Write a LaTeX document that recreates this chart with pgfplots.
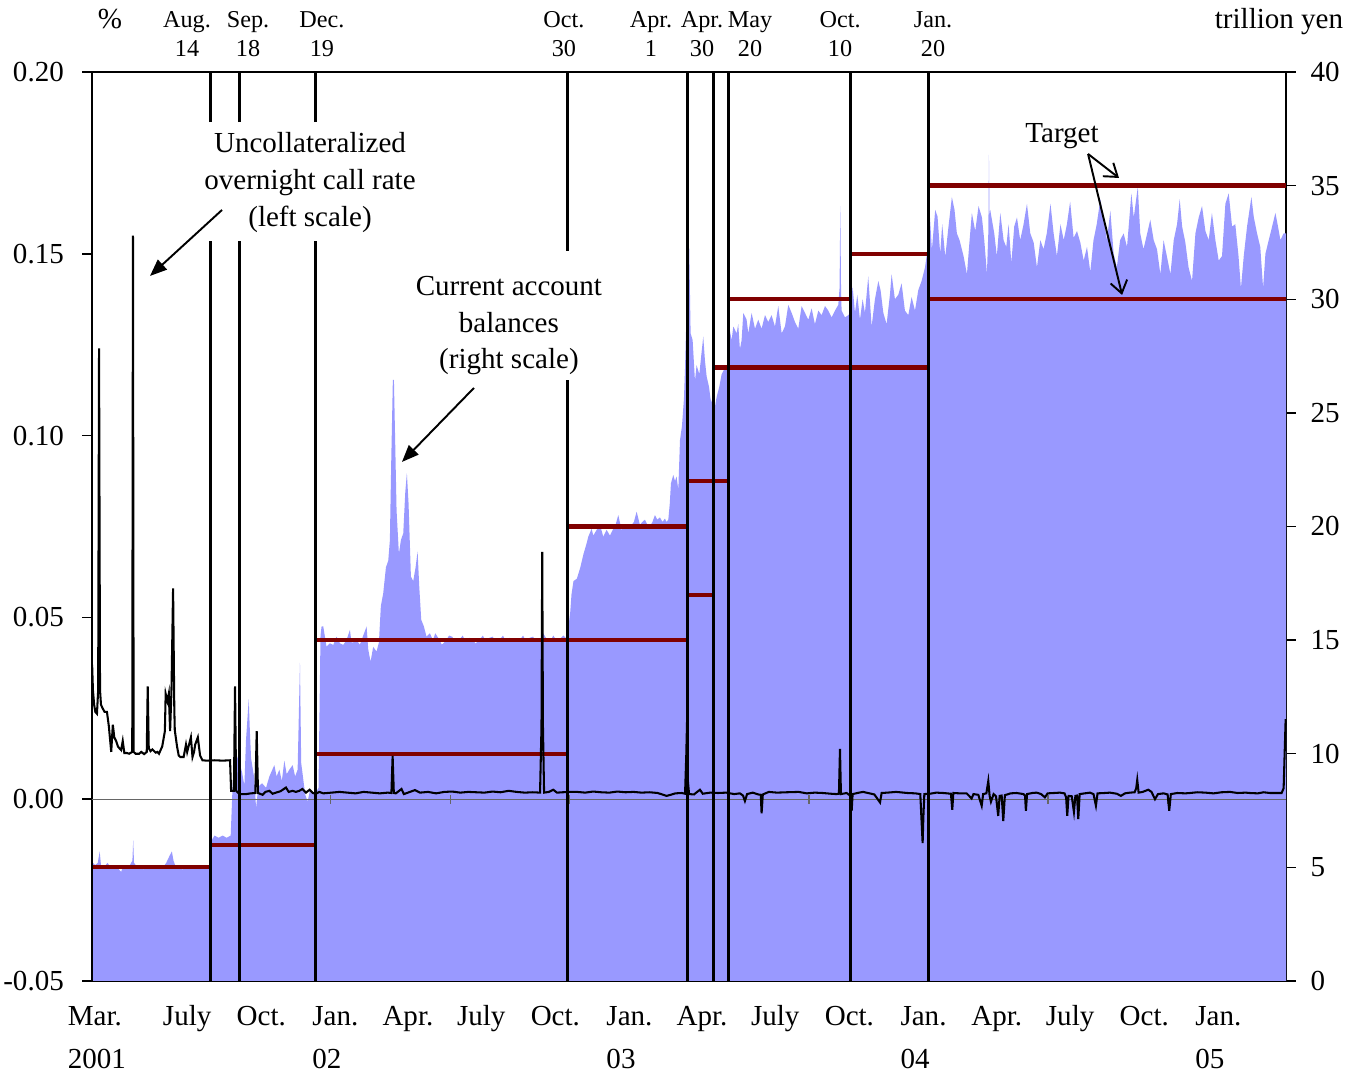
\documentclass[border=0pt]{standalone}
\usepackage{fontspec}
\setmainfont{Liberation Serif}
\usepackage{pgfplots}
\pgfplotsset{compat=1.18}
\usetikzlibrary{arrows.meta}
\definecolor{cab}{RGB}{153,153,255}
\definecolor{tgt}{RGB}{128,0,0}
\begin{document}
\begin{tikzpicture}[font=\fontsize{12}{14.4}\selectfont]
\pgfplotsset{
  common/.style={
    scale only axis, width=493.4pt, height=375.6pt,
    xmin=17.8, xmax=1500,
    axis line style={line width=0.9pt, black},
    tick align=outside, major tick length=4.1pt,
    tick style={line width=0.6pt, black},
    clip=false,
    tick label style={font=\fontsize{12}{14.4}\selectfont},
  },
  evt/.style={black, line width=1.25pt},
  tl/.style={tgt, line width=1.75pt},
}
% ---------------- right scale: current account balances and targets
\begin{axis}[common, ymin=0, ymax=40,
  axis y line*=right, axis x line*=bottom,
  ytick={0,5,...,40},
  yticklabels={0,5,10,15,20,25,30,35,40},
  yticklabel style={xshift=2.5pt},
  xtick={24,136,228,320,410,501,593,685,775,866,958,1050,1141,1232,1324,1416},
  xticklabels={{\strut Mar.\\2001},{\strut July},{\strut Oct.},{\strut Jan.\\02},{\strut Apr.},{\strut July},{\strut Oct.},{\strut Jan.\\03},{\strut Apr.},{\strut July},{\strut Oct.},{\strut Jan.\\04},{\strut Apr.},{\strut July},{\strut Oct.},{\strut Jan.\\05}},
  xtick style={draw=none},
  xticklabel style={align=left, font=\fontsize{12}{17.6}\selectfont, yshift=1.5pt},
]
\addplot[fill=cab, draw=none] coordinates {
(18,5.5)(19,5.2)(22,5.1)(25,5.2)(27.4,5.7)(29,5.1)(33,5.0)(37,5.2)(41,5.0)(45,5.1)(49,5.0)(54,4.8)(57,5.1)(61,5.0)(65,5.1)(68,5.3)(69,6.2)(70,5.2)(74,5.0)(78,5.1)(82,4.9)(86,5.1)(90,5.0)(94,5.1)(98,5.0)(102,5.1)(106,5.0)(110,5.2)(114,5.5)(117,5.7)(119,5.3)(122,5.0)(126,5.1)(130,4.9)(134,5.0)(138,5.1)(142,5.0)(146,5.1)(150,5.0)(154,5.1)(158,5.0)(162,5.1)(165,5.0)
(166.5,6.2)(170,6.4)(175,6.3)(180,6.4)(185,6.3)(190,6.4)(192.5,8.7)(194.5,9.5)(196.7,10.0)(200.8,9.6)(204,9.2)(207,8.6)(209,10.6)(212.4,12.4)(213.8,11.0)(215.3,9.8)(219.4,8.9)(221.5,7.6)(223.5,8.3)(225.6,8.6)(229,8.7)(233.9,8.5)(238,9.0)(244.2,9.5)(247,9.0)(250.4,9.3)(253.5,8.8)(256.6,9.7)(259.5,9.1)(262.8,9.3)(266.9,9.5)(270,9.0)(273.1,9.3)(276,14.0)(277.5,9.6)(279.3,9.1)(282.5,8.2)(285.5,7.9)(288.5,8.4)(291.7,8.3)(295.8,8.3)(299,8.5)
(301.5,15.2)(302.8,15.6)(304.9,15.6)(309,14.71)(313.1,14.86)(317.3,14.79)(321.4,15.15)(325.6,14.86)(329.7,14.79)(333.8,15.0)(338,15.45)(340,14.9)(342.1,14.9)(346.2,15.0)(350.4,14.8)(354.5,15.2)(358.7,15.6)(360.7,14.6)(363.6,14.05)(366.9,14.7)(371.1,14.5)(374,14.9)(376.4,16.5)(379.3,17.05)(382.7,18.2)(385.6,18.5)(387.6,19.4)(389.3,22.9)(391.3,26.45)(392.6,26.45)(394.2,23.7)(395.9,20.7)(398.8,18.8)(401.3,19.4)(404.2,19.7)(406.7,21.5)(408.7,22.35)(410.8,21.0)(413.7,17.8)(416.6,17.6)(419.5,18.2)(422,18.9)(424,17.4)(426.5,15.9)(429.8,15.6)(433.1,15.15)(437.3,15.3)(441,15.0)(444,15.3)(448.4,15.05)(452,14.8)(456.8,14.95)(461,15.2)(465,15.15)(469,14.9)(473.5,15.0)(478,15.2)(481.8,14.9)(486,15.1)(490,15.05)(494,14.85)(498.6,15.0)(503,15.2)(507,14.9)(511,15.1)(515.3,15.15)(519,14.9)(523.6,15.0)(528,15.2)(532,14.9)(536,15.1)(540.3,15.05)(544,14.9)(548.7,15.0)(553,15.2)(557,14.9)(561,15.1)(565.4,15.15)(569,14.9)(573.8,15.0)(578,15.3)(582,15.05)(586,14.9)(590.5,15.2)(594,15.0)(598.8,15.05)(603,15.2)(607.2,15.05)
(609,15.5)(611.4,16.2)(613,17.0)(615.5,17.6)(619.7,17.7)(624,18.2)(628,18.8)(629.7,19.0)(631.8,19.26)(633.9,19.55)(638,19.9)(640.1,19.6)(644.2,19.85)(648.4,20.07)(652.5,19.55)(656.6,19.85)(660.8,19.6)(664.9,19.9)(668,20.1)(671.1,20.5)(675.2,19.85)(678,20.0)(681.5,20.07)(684.5,19.9)(687.7,20.07)(690.5,20.2)(693.9,20.65)(698,20.07)(701,20.2)(704.2,20.3)(707,20.1)(710.4,20.0)(713.5,20.2)(716.6,20.5)(719.5,20.3)(722.8,20.4)(726,20.2)(729,20.35)(731,20.2)(733.2,20.3)(735,21.0)(736.5,21.9)(739.4,22.27)(741.5,22.0)(743.5,22.2)(745.6,21.6)(747.7,23.8)(750.1,24.4)(752.6,25.6)(754,27.0)(755.1,28.5)(756.5,30.0)
(758,32.4)(759.2,32.2)(760.9,28.5)(763.4,28.2)(766.3,26.4)(768.3,27.1)(771.7,26.7)(774.6,27.7)(776.6,28.35)(778.7,27.3)(780.8,26.6)(783.7,26.15)(785.7,25.6)(788.2,25.4)(790.3,25.1)(793.2,25.7)(796.5,26.15)(799.4,26.7)(802.3,26.9)(805.6,26.9)(807.6,27.5)(809.7,28.6)(811.8,28.2)(813.9,28.8)(818,28.5)(820,28.9)(822.1,27.8)(824.2,28.2)(826.3,29.4)(830.4,29.1)(832.5,28.5)(836.6,29.4)(840.8,28.7)(844.9,29.1)(849,28.7)(853.2,29.3)(857.3,29.0)(861.4,29.3)(865.6,28.8)(869.7,29.7)(873.9,28.5)(878,28.8)(882.1,29.75)(886.3,29.4)(890.4,29.0)(894.5,28.7)(898.7,29.7)(902.8,29.4)(907,29.1)(911.1,29.6)(915.2,28.9)(919.4,29.5)(923.5,29.3)(927.7,29.7)(931.8,29.5)(935.9,29.2)(940.1,29.5)(944.2,29.75)(945.8,30.5)(946.7,34.1)(947.6,30.5)(948.3,29.5)(952.5,29.2)(956.6,29.3)(959.1,29.4)(962,30.55)(964.9,29.4)(967.8,30.2)(971.1,29.1)(974.4,30.0)(977.3,29.4)(981.4,31.0)(985.6,28.8)(989.7,30.0)(993.9,30.8)(996.7,30.4)(1000.1,29.4)(1004.2,28.9)(1008.3,30.2)(1010.4,31.1)(1014.5,30.0)(1018.7,30.2)(1022.8,30.7)(1026.9,29.5)(1031.1,29.3)(1035.2,30.1)(1039.4,29.5)(1043.5,30.4)(1047.6,30.8)(1051.8,31.4)(1055.1,32.2)
(1056.5,32.8)(1058,33.6)(1060.4,32.17)(1064.5,33.93)(1067.4,33.64)(1070.7,32.0)(1073.2,33.3)(1077,31.87)(1081,33.2)(1085.2,34.5)(1088.5,33.93)(1091.4,32.9)(1094.7,32.6)(1099.7,31.9)(1103.9,31.1)(1107.2,32.6)(1110,33.8)(1114.2,33.0)(1118.3,34.1)(1122.5,33.6)(1125.4,32.6)(1128.7,31.13)(1130.5,33.0)(1131.2,36.35)(1132,33.5)(1132.8,33.93)(1137.8,32.9)(1141,31.9)(1145.3,33.8)(1149.4,32.6)(1152.7,32.3)(1155.6,33.3)(1159,31.6)(1162.6,33.2)(1166,33.6)(1170,32.6)(1174.2,33.3)(1178.4,34.2)(1182.5,32.9)(1186.7,32.5)(1190.8,31.4)(1195,32.6)(1199,32.2)(1203,32.9)(1207.6,34.2)(1211.5,32.9)(1215.6,31.9)(1220,33.3)(1224,32.6)(1228,33.3)(1232,34.3)(1236.3,32.7)(1240.5,33.0)(1244.6,32.5)(1248.8,31.7)(1252.9,32.3)(1257,31.2)(1261,32.6)(1265,33.3)(1269.5,34.4)(1273.6,33.5)(1277.7,32.6)(1281.9,33.9)(1286,32.0)(1290,31.4)(1294,32.6)(1298.4,32.9)(1302.6,32.3)(1308,34.66)(1311,33.6)(1316,34.95)(1319,32.9)(1323,32.2)(1327,32.8)(1331.5,33.5)(1335.7,32.6)(1339.8,32.2)(1344,31.1)(1348,32.6)(1352,31.9)(1356.5,31.1)(1360.6,32.6)(1364.7,33.3)(1368,34.4)(1371,33.2)(1375,32.5)(1379,31.4)(1383.3,30.8)(1387.5,32.9)(1391.6,33.6)(1395.7,34.1)(1399.9,33.0)(1404,32.6)(1408,33.8)(1412.3,32.6)(1416.4,31.7)(1420.5,31.9)(1424.7,34.2)(1428.8,34.66)(1433,33.2)(1437,33.3)(1441,31.9)(1444,30.48)(1447.5,31.9)(1451.6,33.2)(1457,34.5)(1460,33.6)(1464,32.9)(1468,32.3)(1471.5,30.5)(1474.4,32.0)(1478.5,32.6)(1482.7,33.2)(1486.8,33.8)(1490,33.2)(1493,32.6)(1497,32.9)(1500,32.9)
} \closedcycle;
% targets
\addplot[tl] coordinates {(17.8,5)(165.5,5)};
\addplot[tl] coordinates {(165.5,6)(295.8,6)};
\addplot[tl] coordinates {(295.8,10)(607.7,10)};
\addplot[tl] coordinates {(295.8,15)(757.2,15)};
\addplot[tl] coordinates {(607.7,20)(757.2,20)};
\addplot[tl] coordinates {(757.2,17)(789,17)};
\addplot[tl] coordinates {(757.2,22)(809,22)};
\addplot[tl] coordinates {(789,27)(1055.9,27)};
\addplot[tl] coordinates {(807.6,30)(959.1,30)};
\addplot[tl] coordinates {(959.1,32)(1055.9,32)};
\addplot[tl] coordinates {(1055.9,30)(1500,30)};
\addplot[tl] coordinates {(1055.9,35)(1500,35)};
\end{axis}
% ---------------- left scale: call rate
\begin{axis}[common, ymin=-0.05, ymax=0.2,
  axis y line*=left, axis x line*=top, xtick=\empty,
  ytick={-0.05,0,0.05,0.1,0.15,0.2},
  yticklabels={-0.05,0.00,0.05,0.10,0.15,0.20},
  yticklabel style={xshift=-4pt},
]
\addplot[black!60, line width=0.45pt] coordinates {(17.8,0)(1500,0)};
\addplot[black!60, line width=0.45pt, unbounded coords=jump] coordinates {
(314.4,-0.0012)(314.4,0.0012)(314.4,nan)(462.8,-0.0012)(462.8,0.0012)(462.8,nan)(611.1,-0.0012)(611.1,0.0012)(611.1,nan)(907.8,-0.0012)(907.8,0.0012)(907.8,nan)(1204.5,-0.0012)(1204.5,0.0012)(1204.5,nan)(1352.8,-0.0012)(1352.8,0.0012)};
% event lines
\addplot[evt] coordinates {(165.5,-0.05)(165.5,0.1535)};
\addplot[evt] coordinates {(165.5,0.1862)(165.5,0.2)};
\addplot[evt] coordinates {(201.5,-0.05)(201.5,0.1535)};
\addplot[evt] coordinates {(201.5,0.1862)(201.5,0.2)};
\addplot[evt] coordinates {(295.8,-0.05)(295.8,0.1535)};
\addplot[evt] coordinates {(295.8,0.1862)(295.8,0.2)};
\addplot[evt] coordinates {(607.7,-0.05)(607.7,0.1153)};
\addplot[evt] coordinates {(607.7,0.1508)(607.7,0.2)};
\addplot[evt] coordinates {(757.2,-0.05)(757.2,0.2)};
\addplot[evt] coordinates {(789,-0.05)(789,0.2)};
\addplot[evt] coordinates {(807.6,-0.05)(807.6,0.2)};
\addplot[evt] coordinates {(959.1,-0.05)(959.1,0.2)};
\addplot[evt] coordinates {(1055.9,-0.05)(1055.9,0.2)};
% call rate
\addplot[black, line width=0.85pt] coordinates {
(18,0.037)(19,0.030)(20.5,0.026)(22,0.024)(24,0.0235)(25.5,0.030)(26.6,0.124)(27.8,0.030)(29,0.026)(31,0.025)(33.5,0.024)(36.4,0.024)(38.8,0.020)(41.7,0.013)(43.7,0.0205)(45.5,0.017)(47.8,0.016)(50,0.0145)(51.9,0.014)(54,0.0135)(56,0.016)(58,0.0127)(61,0.0127)(64,0.0125)(67.8,0.013)(68.7,0.155)(69.5,0.013)(72,0.0125)(76.4,0.0125)(79,0.013)(82.6,0.0124)(85.8,0.013)(87,0.031)(88.3,0.014)(90.5,0.0132)(92.8,0.0137)(96.9,0.0128)(99,0.013)(101,0.0125)(103,0.0135)(105,0.0145)(108.3,0.0187)(109.3,0.029)(111.5,0.027)(113.2,0.029)(114.8,0.0187)(116.5,0.030)(118.5,0.058)(120,0.025)(120.6,0.019)(123.4,0.0145)(125.5,0.012)(127.5,0.0116)(131.6,0.0116)(134.5,0.015)(136,0.013)(137.7,0.0145)(140.6,0.017)(142.6,0.0116)(144.5,0.013)(145.9,0.015)(149.2,0.017)(152,0.012)(154.9,0.0107)(160,0.0106)(170,0.0107)(180,0.0106)(189.2,0.0107)(190.5,0.0023)(194,0.0023)(195.4,0.031)(196.8,0.0023)(200.8,0.0014)(209,0.0014)(215,0.0016)(220.6,0.0017)(222.3,0.0187)(223.9,0.0017)(229.7,0.0012)(233,0.0020)(238,0.0023)(242,0.0015)(246.2,0.0018)(252,0.0022)(258.6,0.0032)(262,0.0020)(266.9,0.0023)(271,0.0020)(275.2,0.0023)(279,0.0028)(283.4,0.0018)(288,0.0026)(292,0.0017)(295.8,0.0015)(300,0.0020)(305,0.0016)(315,0.0018)(325,0.0020)(335,0.0018)(345,0.0016)(355,0.0020)(365,0.0018)(375,0.0016)(385,0.0018)(389.5,0.0017)(391,0.0119)(392.5,0.0017)(395,0.0016)(402,0.0028)(405,0.0014)(410,0.0018)(418.7,0.0025)(425,0.0018)(435,0.0020)(445,0.0016)(455,0.0020)(465,0.0021)(475,0.0018)(485,0.0020)(495,0.0019)(505,0.0018)(515,0.0021)(525,0.0019)(535,0.0023)(545,0.0020)(555,0.0018)(565,0.0019)(574,0.0018)(575.8,0.0200)(576.7,0.068)(577.6,0.0200)(579,0.0018)(585,0.0020)(590.4,0.0026)(595,0.0018)(602,0.0019)(611,0.0020)(620,0.0020)(630,0.0018)(640,0.0021)(650,0.0019)(660,0.0018)(670,0.0021)(680,0.0019)(690,0.0020)(700,0.0018)(710,0.0019)(720,0.0017)(727,0.0012)(731,0.0009)(736,0.0012)(742,0.0016)(750,0.0017)(754,0.0015)(755.5,0.0120)(756.5,0.0217)(757.5,0.0050)(759,0.0014)(765,0.0013)(772.5,0.0026)(776,0.0015)(785,0.0018)(795,0.0017)(805,0.0018)(815,0.0014)(822,0.0016)(826,0.0010)(828.3,-0.0005)(831,0.0014)(838,0.0018)(845,0.0013)(848,0.0012)(849,-0.0039)(850.5,0.0013)(858,0.0020)(868,0.0018)(880,0.0019)(895,0.0020)(905,0.0016)(915,0.0018)(925,0.0017)(935,0.0015)(942,0.0014)(945,0.0015)(946.3,0.0138)(947.5,0.0014)(954.6,0.0017)(960,0.0008)(960.8,-0.0032)(962,0.0014)(970,0.0018)(975,0.0020)(985,0.0015)(989,0.0013)(996,-0.0009)(998,0.0017)(1005,0.0018)(1016,0.0020)(1030,0.0017)(1040,0.0016)(1046,0.0014)(1048,-0.0080)(1048.9,-0.0121)(1049.8,-0.0050)(1051,0.0014)(1058,0.0015)(1066,0.0018)(1074.5,0.0017)(1084,0.0015)(1085.7,-0.0029)(1087,0.0017)(1095,0.0016)(1103.5,0.0016)(1109.7,0.0002)(1112,0.0014)(1118,0.0012)(1122.2,-0.0018)(1124,0.0014)(1128,0.0016)(1130.4,0.0050)(1132,0.0010)(1133.7,-0.0007)(1137,0.0014)(1140,0.0008)(1142.7,-0.0046)(1144.5,0.0009)(1147,0.0010)(1149,-0.0060)(1151,0.0011)(1158,0.0016)(1165.6,0.0017)(1174,0.0014)(1176,0.0010)(1177.1,-0.0032)(1178.5,0.0014)(1185,0.0017)(1190.4,0.0018)(1196,0.0014)(1200.7,0.0005)(1204,0.0016)(1212,0.0017)(1219.3,0.0018)(1225,0.0016)(1227,0.0005)(1228.4,-0.0046)(1230,0.0009)(1234,0.0008)(1236.7,-0.0035)(1238.5,0.0009)(1240.5,0.0010)(1242.1,-0.0055)(1243.8,0.0014)(1250,0.0016)(1256.6,0.0018)(1261,0.0014)(1264,-0.0018)(1266,0.0016)(1275,0.0017)(1281.4,0.0018)(1290,0.0015)(1295,0.0009)(1300,0.0016)(1306.2,0.0018)(1312,0.0019)(1314,0.0030)(1315.3,0.0053)(1317,0.0018)(1322,0.0020)(1329,0.0026)(1333,0.0020)(1337.3,0.0000)(1341,0.0014)(1348,0.0016)(1353,0.0013)(1355,-0.0032)(1357,0.0014)(1365,0.0017)(1375,0.0016)(1380.7,0.0017)(1390,0.0019)(1400,0.0018)(1410,0.0016)(1420,0.0019)(1430.4,0.0020)(1440,0.0017)(1450,0.0018)(1455,0.0017)(1465,0.0016)(1472,0.0019)(1480,0.0017)(1490,0.0017)(1494.5,0.0017)(1497,0.0030)(1499.5,0.022)
};
% annotations
\node[align=center, font=\fontsize{12}{15.3}\selectfont] at (rel axis cs:0.1826,0.8779) {Uncollateralized\\overnight call rate\\(left scale)};
\node[align=center, font=\fontsize{12}{15.1}\selectfont] at (rel axis cs:0.3492,0.7206) {Current account\\balances\\(right scale)};
\node[font=\fontsize{12}{14.4}\selectfont] at (rel axis cs:0.8124,0.9296) {Target};
\draw[line width=0.8pt, -{Triangle[length=7pt,width=5.5pt]}] (rel axis cs:0.1089,0.8482) -- (rel axis cs:0.0486,0.7756);
\draw[line width=0.8pt, -{Triangle[length=7pt,width=5.5pt]}] (rel axis cs:0.3199,0.6524) -- (rel axis cs:0.2596,0.5710);
\draw[line width=0.8pt, -{Straight Barb[length=5pt,width=7pt]}] (rel axis cs:0.8342,0.9098) -- (rel axis cs:0.8601,0.8834);
\draw[line width=0.8pt, -{Straight Barb[length=5pt,width=7pt]}] (rel axis cs:0.8342,0.9098) -- (rel axis cs:0.8627,0.7547);
% top labels
\node[anchor=base] at (rel axis cs:0.0151,1.0479) {\%};
\node[anchor=base] at (rel axis cs:0.9941,1.0479) {trillion yen};
\begin{scope}[every node/.style={anchor=base, font=\fontsize{10}{12}\selectfont}]
\node at (rel axis cs:0.0796,1.0490) {Aug.}; \node at (rel axis cs:0.0796,1.0171) {14};
\node at (rel axis cs:0.1307,1.0490) {Sep.}; \node at (rel axis cs:0.1307,1.0171) {18};
\node at (rel axis cs:0.1926,1.0490) {Dec.}; \node at (rel axis cs:0.1926,1.0171) {19};
\node at (rel axis cs:0.3953,1.0490) {Oct.}; \node at (rel axis cs:0.3953,1.0171) {30};
\node at (rel axis cs:0.4682,1.0490) {Apr.}; \node at (rel axis cs:0.4682,1.0171) {1};
\node at (rel axis cs:0.5109,1.0490) {Apr.}; \node at (rel axis cs:0.5109,1.0171) {30};
\node at (rel axis cs:0.5511,1.0490) {May}; \node at (rel axis cs:0.5511,1.0171) {20};
\node at (rel axis cs:0.6265,1.0490) {Oct.}; \node at (rel axis cs:0.6265,1.0171) {10};
\node at (rel axis cs:0.7044,1.0490) {Jan.}; \node at (rel axis cs:0.7044,1.0171) {20};
\end{scope}
\end{axis}
\pgfresetboundingbox
\path (-38pt,-38pt) rectangle (519pt,405.35pt);
\end{tikzpicture}
\end{document}
